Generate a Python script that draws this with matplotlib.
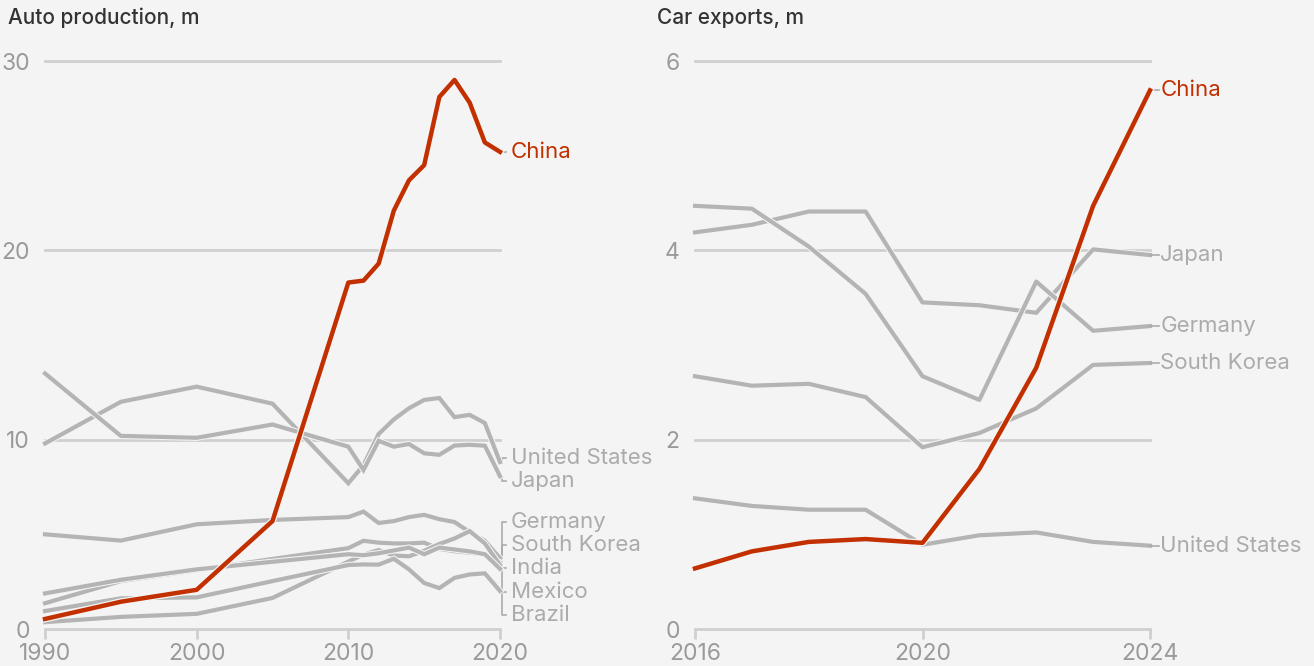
import matplotlib
matplotlib.use("Agg")
import matplotlib.pyplot as plt
import matplotlib.patheffects as pe

# ---- data ----
prod_years = [1990, 1995, 2000, 2005, 2010, 2011, 2012, 2013, 2014, 2015, 2016, 2017, 2018, 2019, 2020]
prod_china = [0.53, 1.44, 2.07, 5.7, 18.3, 18.4, 19.3, 22.1, 23.7, 24.5, 28.1, 29.0, 27.8, 25.7, 25.2]
prod_us = [9.8, 12.0, 12.8, 11.9, 7.7, 8.65, 10.3, 11.07, 11.66, 12.1, 12.2, 11.19, 11.31, 10.88, 8.82]
prod_japan = [13.5, 10.2, 10.1, 10.8, 9.63, 8.4, 9.94, 9.63, 9.77, 9.28, 9.2, 9.69, 9.73, 9.68, 8.07]
prod_germany = [5.0, 4.67, 5.53, 5.76, 5.91, 6.2, 5.6, 5.7, 5.91, 6.03, 5.8, 5.65, 5.12, 4.66, 3.74]
prod_skorea = [1.36, 2.53, 3.11, 3.7, 4.27, 4.66, 4.56, 4.52, 4.52, 4.56, 4.23, 4.11, 4.03, 3.95, 3.51]
prod_india = [0.36, 0.64, 0.8, 1.64, 3.56, 3.93, 4.17, 3.88, 3.84, 4.13, 4.49, 4.78, 5.17, 4.52, 3.39]
prod_mexico = [1.88, 2.6, 3.15, 3.55, 3.95, 3.9, 4.0, 4.15, 4.3, 3.95, 4.3, 4.2, 4.1, 3.95, 3.18]
prod_brazil = [0.95, 1.62, 1.67, 2.53, 3.38, 3.41, 3.4, 3.71, 3.15, 2.43, 2.16, 2.7, 2.88, 2.94, 2.01]

prod_names = ["United States", "Japan", "Germany", "South Korea", "India", "Mexico", "Brazil"]
prod_label_y = [9.03, 7.82, 5.65, 4.44, 3.22, 1.95, 0.74]

exp_years = [2016, 2017, 2018, 2019, 2020, 2021, 2022, 2023, 2024]
exp_china = [0.64, 0.82, 0.92, 0.95, 0.91, 1.69, 2.76, 4.47, 5.69]
exp_japan = [4.19, 4.27, 4.41, 4.41, 3.45, 3.42, 3.34, 4.01, 3.95]
exp_germany = [4.47, 4.44, 4.04, 3.54, 2.67, 2.42, 3.67, 3.15, 3.2]
exp_skorea = [2.67, 2.57, 2.59, 2.45, 1.92, 2.07, 2.33, 2.79, 2.81]
exp_us = [1.38, 1.3, 1.26, 1.26, 0.89, 0.99, 1.02, 0.92, 0.88]

exp_names = ["Japan", "Germany", "South Korea", "United States"]

# ---- style ----
BG = "#f4f4f4"
GREY = "#b4b4b4"
LABEL_GREY = "#ababab"
TICK_GREY = "#9a9a9a"
GRID = "#cfcfcf"
RED = "#c23000"
FONT = "Inter"

plt.rcParams["font.family"] = [FONT, "DejaVu Sans"]

fig = plt.figure(figsize=(13.14, 6.66), dpi=100, facecolor=BG)
ax1 = fig.add_axes([45 / 1314, 37 / 666, 455 / 1314, 568 / 666])
ax2 = fig.add_axes([695 / 1314, 37 / 666, 455 / 1314, 568 / 666])

halo = [pe.Stroke(linewidth=4.5, foreground=BG), pe.Normal()]


def style_axis(ax, xlim, ylim, xticks, yticks):
    ax.set_facecolor(BG)
    ax.set_xlim(*xlim)
    ax.set_ylim(*ylim)
    ax.set_xticks(xticks)
    ax.set_yticks(yticks)
    for s in ["top", "right", "left"]:
        ax.spines[s].set_visible(False)
    ax.spines["bottom"].set_color(GRID)
    ax.spines["bottom"].set_linewidth(2)
    ax.tick_params(axis="x", colors=GRID, length=7, width=2, labelcolor=TICK_GREY,
                   labelsize=16.5, pad=3)
    ax.tick_params(axis="y", length=0, labelcolor=TICK_GREY, labelsize=16.5, pad=11)
    for y in yticks[1:]:
        ax.axhline(y, color=GRID, lw=2, zorder=0, clip_on=False)


# ---- left: auto production ----
style_axis(ax1, (1990, 2020), (0, 30), [1990, 2000, 2010, 2020], [0, 10, 20, 30])
prod_series = [prod_us, prod_japan, prod_germany, prod_skorea, prod_india, prod_mexico, prod_brazil]
for vals in prod_series:
    ax1.plot(prod_years, vals, color=GREY, lw=3, solid_joinstyle="miter",
             path_effects=halo, clip_on=False, zorder=2)
ax1.plot(prod_years, prod_china, color=RED, lw=3.2, clip_on=False, zorder=3,
         path_effects=[pe.Stroke(linewidth=5, foreground=BG), pe.Normal()])

for name, vals, ly in zip(prod_names, prod_series, prod_label_y):
    ax1.plot([2020, 2020.12, 2020.12, 2020.4], [vals[-1], vals[-1], ly, ly],
             color=LABEL_GREY, lw=1.2, clip_on=False, zorder=1)
    ax1.text(2020.72, ly, name, color=LABEL_GREY, fontsize=16, va="center", ha="left")
ax1.plot([2020, 2020.4], [prod_china[-1], prod_china[-1]], color=LABEL_GREY, lw=1.2,
         clip_on=False)
ax1.text(2020.72, prod_china[-1], "China", color=RED, fontsize=16, va="center", ha="left")

# ---- right: car exports ----
style_axis(ax2, (2016, 2024), (0, 6), [2016, 2020, 2024], [0, 2, 4, 6])
exp_series = [exp_japan, exp_germany, exp_skorea, exp_us]
for vals in exp_series:
    ax2.plot(exp_years, vals, color=GREY, lw=3, path_effects=halo, clip_on=False, zorder=2)
ax2.plot(exp_years, exp_china, color=RED, lw=3.2, clip_on=False, zorder=3,
         path_effects=[pe.Stroke(linewidth=5, foreground=BG), pe.Normal()])

for name, vals in zip(exp_names, exp_series):
    ax2.plot([2024, 2024.15], [vals[-1], vals[-1]], color=LABEL_GREY, lw=1.2, clip_on=False)
    ax2.text(2024.18, vals[-1], name, color=LABEL_GREY, fontsize=16, va="center", ha="left")
ax2.plot([2024, 2024.15], [exp_china[-1], exp_china[-1]], color=LABEL_GREY, lw=1.2,
         clip_on=False)
ax2.text(2024.18, exp_china[-1], "China", color=RED, fontsize=16, va="center", ha="left")

# ---- titles ----
fig.text(8 / 1314, 1 - 18 / 666, "Auto production, m", color="#333333", fontsize=15,
         fontweight="medium", va="center", ha="left")
fig.text(657 / 1314, 1 - 18 / 666, "Car exports, m", color="#333333", fontsize=15,
         fontweight="medium", va="center", ha="left")

fig.savefig("out.png", dpi=100, facecolor=BG)
